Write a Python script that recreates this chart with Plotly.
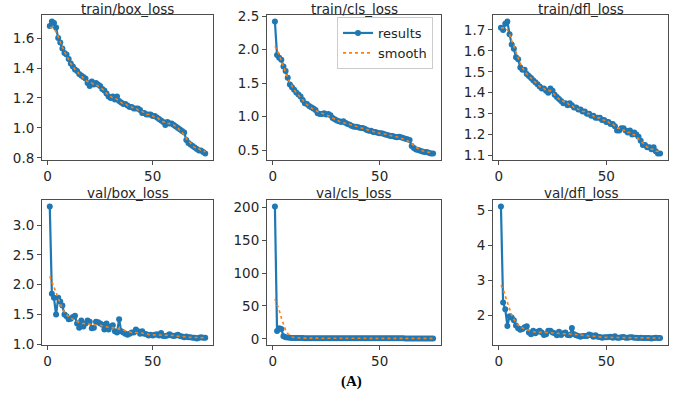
import plotly.graph_objects as go

epochs = list(range(1, 76))

train_box = [1.68,1.71,1.70,1.67,1.60, 1.57,1.53,1.50,1.49,1.46, 1.43,1.41,1.39,1.38,1.36,
             1.35,1.34,1.33,1.30,1.28, 1.31,1.29,1.30,1.29,1.28, 1.26,1.25,1.23,1.21,1.20,
             1.21,1.19,1.21,1.18,1.17, 1.16,1.16,1.15,1.14,1.14, 1.13,1.13,1.13,1.12,1.10,
             1.10,1.09,1.09,1.09,1.08, 1.08,1.07,1.06,1.05,1.04, 1.02,1.04,1.03,1.03,1.02,
             1.01,1.00,0.99,0.98,0.97, 0.92,0.90,0.89,0.88,0.87, 0.86,0.85,0.85,0.84,0.83]
train_box_s = [1.67,1.67,1.66,1.64,1.61, 1.57,1.54,1.51,1.48,1.46, 1.43,1.41,1.39,1.38,1.36,
               1.35,1.33,1.32,1.31,1.30, 1.30,1.29,1.29,1.28,1.27, 1.26,1.25,1.23,1.22,1.21,
               1.20,1.20,1.19,1.18,1.17, 1.16,1.16,1.15,1.14,1.14, 1.13,1.13,1.12,1.11,1.11,
               1.10,1.09,1.09,1.08,1.08, 1.07,1.07,1.06,1.05,1.04, 1.04,1.03,1.03,1.02,1.02,
               1.01,1.00,0.98,0.97,0.95, 0.93,0.91,0.90,0.88,0.87, 0.86,0.86,0.85,0.85,0.84]

train_cls = [2.42,1.92,1.88,1.85,1.75, 1.68,1.58,1.48,1.44,1.40, 1.36,1.33,1.30,1.25,1.20,
             1.19,1.16,1.14,1.12,1.10, 1.05,1.04,1.04,1.05,1.03, 1.04,1.02,0.98,0.96,0.94,
             0.93,0.92,0.93,0.91,0.89, 0.88,0.86,0.85,0.85,0.84, 0.83,0.83,0.82,0.80,0.79,
             0.79,0.77,0.77,0.76,0.75, 0.75,0.74,0.73,0.72,0.71, 0.71,0.70,0.69,0.70,0.69,
             0.68,0.67,0.66,0.65,0.56, 0.53,0.51,0.50,0.49,0.48, 0.47,0.47,0.46,0.45,0.45]
train_cls_s = [2.05,2.00,1.92,1.83,1.74, 1.66,1.58,1.51,1.45,1.40, 1.36,1.32,1.28,1.24,1.21,
               1.18,1.15,1.13,1.11,1.09, 1.07,1.06,1.05,1.04,1.03, 1.02,1.00,0.98,0.96,0.95,
               0.93,0.92,0.91,0.90,0.89, 0.88,0.87,0.86,0.85,0.84, 0.83,0.82,0.81,0.80,0.79,
               0.78,0.77,0.77,0.76,0.75, 0.75,0.74,0.73,0.72,0.72, 0.71,0.70,0.70,0.69,0.68,
               0.67,0.66,0.64,0.62,0.59, 0.56,0.54,0.52,0.50,0.49, 0.48,0.47,0.46,0.46,0.46]

train_dfl = [1.71,1.70,1.73,1.74,1.68, 1.63,1.61,1.57,1.56,1.52, 1.51,1.51,1.49,1.48,1.47,
             1.46,1.45,1.44,1.43,1.42, 1.42,1.41,1.40,1.42,1.41, 1.39,1.38,1.37,1.36,1.35,
             1.35,1.34,1.35,1.34,1.33, 1.33,1.32,1.32,1.31,1.31, 1.30,1.30,1.29,1.29,1.28,
             1.28,1.28,1.27,1.27,1.26, 1.26,1.25,1.25,1.24,1.22, 1.22,1.23,1.23,1.22,1.21,
             1.22,1.20,1.21,1.20,1.19, 1.17,1.15,1.15,1.14,1.14, 1.13,1.14,1.12,1.11,1.11]
train_dfl_s = [1.71,1.71,1.71,1.70,1.68, 1.65,1.62,1.59,1.56,1.54, 1.52,1.50,1.49,1.48,1.47,
               1.46,1.45,1.44,1.43,1.42, 1.42,1.41,1.41,1.41,1.40, 1.39,1.38,1.37,1.36,1.36,
               1.35,1.35,1.34,1.34,1.33, 1.33,1.32,1.32,1.31,1.31, 1.30,1.30,1.29,1.29,1.28,
               1.28,1.28,1.27,1.27,1.26, 1.26,1.25,1.25,1.24,1.23, 1.23,1.23,1.22,1.22,1.21,
               1.21,1.20,1.20,1.19,1.18, 1.17,1.16,1.15,1.14,1.14, 1.13,1.13,1.12,1.12,1.12]

val_box = [3.31,1.85,1.78,1.50,1.78, 1.72,1.65,1.50,1.47,1.42, 1.43,1.46,1.48,1.35,1.28,
           1.40,1.30,1.35,1.40,1.38, 1.27,1.28,1.38,1.37,1.35, 1.33,1.25,1.35,1.25,1.30,
           1.32,1.22,1.20,1.42,1.22, 1.20,1.18,1.16,1.18,1.20, 1.20,1.25,1.22,1.18,1.22,
           1.18,1.17,1.15,1.16,1.15, 1.16,1.17,1.15,1.19,1.14, 1.14,1.15,1.17,1.15,1.14,
           1.15,1.16,1.14,1.13,1.12, 1.13,1.12,1.12,1.11,1.11, 1.10,1.11,1.12,1.11,1.11]
val_box_s = [2.14,2.05,1.96,1.86,1.77, 1.68,1.60,1.54,1.49,1.46, 1.44,1.42,1.40,1.38,1.36,
             1.35,1.35,1.35,1.34,1.34, 1.33,1.33,1.33,1.33,1.32, 1.31,1.30,1.29,1.29,1.28,
             1.28,1.27,1.26,1.25,1.24, 1.23,1.22,1.21,1.20,1.20, 1.20,1.20,1.20,1.20,1.19,
             1.18,1.17,1.17,1.16,1.16, 1.16,1.16,1.16,1.16,1.15, 1.15,1.15,1.15,1.15,1.15,
             1.14,1.14,1.14,1.13,1.13, 1.12,1.12,1.12,1.11,1.11, 1.11,1.11,1.11,1.11,1.11]

val_cls = [201,12,16,15,4.0, 2.5,2.0,1.6,1.4,1.3, 1.2,1.2,1.1,1.1,1.0,
           1.0,1.0,0.95,0.95,0.9, 0.9,0.9,0.9,0.85,0.85, 0.85,0.85,0.8,0.8,0.8,
           0.8,0.8,0.78,0.8,0.78, 0.76,0.75,0.75,0.74,0.74, 0.73,0.74,0.73,0.72,0.72,
           0.71,0.71,0.70,0.70,0.70, 0.69,0.69,0.68,0.69,0.68, 0.67,0.67,0.67,0.66,0.66,
           0.66,0.65,0.65,0.65,0.64, 0.63,0.63,0.62,0.62,0.62, 0.61,0.61,0.61,0.60,0.60]
val_cls_s = [60.5,52.5,43.7,32.0,21.0, 13.0,8.0,4.6,2.7,1.8, 1.4,1.25,1.15,1.1,1.05,
             1.0,0.98,0.96,0.94,0.92, 0.90,0.89,0.88,0.87,0.86, 0.85,0.84,0.83,0.82,0.81,
             0.80,0.80,0.79,0.79,0.78, 0.77,0.76,0.75,0.75,0.74, 0.74,0.73,0.73,0.72,0.72,
             0.71,0.71,0.70,0.70,0.70, 0.69,0.69,0.68,0.68,0.68, 0.67,0.67,0.67,0.66,0.66,
             0.66,0.65,0.65,0.65,0.64, 0.64,0.63,0.63,0.62,0.62, 0.61,0.61,0.61,0.61,0.61]

val_dfl = [5.12,2.36,2.17,1.69,1.97, 1.93,1.85,1.70,1.62,1.58, 1.60,1.65,1.68,1.50,1.45,
           1.55,1.48,1.52,1.55,1.50, 1.43,1.45,1.55,1.55,1.50, 1.48,1.42,1.52,1.43,1.48,
           1.50,1.43,1.42,1.63,1.45, 1.42,1.40,1.38,1.40,1.40, 1.40,1.44,1.42,1.38,1.42,
           1.38,1.37,1.35,1.36,1.36, 1.37,1.38,1.35,1.39,1.35, 1.35,1.36,1.37,1.35,1.35,
           1.36,1.36,1.35,1.35,1.34, 1.35,1.34,1.34,1.34,1.34, 1.33,1.34,1.35,1.34,1.34]
val_dfl_s = [2.86,2.75,2.55,2.35,2.15, 2.00,1.88,1.78,1.71,1.66, 1.62,1.60,1.58,1.56,1.54,
             1.52,1.51,1.51,1.50,1.50, 1.50,1.50,1.50,1.50,1.49, 1.48,1.48,1.47,1.47,1.47,
             1.47,1.46,1.46,1.46,1.45, 1.44,1.43,1.42,1.41,1.40, 1.40,1.40,1.40,1.39,1.39,
             1.38,1.37,1.37,1.36,1.36, 1.36,1.36,1.36,1.36,1.36, 1.36,1.36,1.36,1.35,1.35,
             1.35,1.35,1.35,1.35,1.34, 1.34,1.34,1.34,1.34,1.34, 1.34,1.34,1.34,1.34,1.34]

titles = ["train/box_loss", "train/cls_loss", "train/dfl_loss",
          "val/box_loss", "val/cls_loss", "val/dfl_loss"]
x_ticks = [0, 50]
y_ticks = [[0.8, 1.0, 1.2, 1.4, 1.6],
           [0.5, 1.0, 1.5, 2.0, 2.5],
           [1.1, 1.2, 1.3, 1.4, 1.5, 1.6, 1.7],
           [1.0, 1.5, 2.0, 2.5, 3.0],
           [0, 50, 100, 150, 200],
           [2, 3, 4, 5]]
y_fmt = [".1f", ".1f", ".1f", ".1f", "d", "d"]
caption = "(A)"

results = [train_box, train_cls, train_dfl, val_box, val_cls, val_dfl]
smooths = [train_box_s, train_cls_s, train_dfl_s, val_box_s, val_cls_s, val_dfl_s]

W, H = 675, 396
x_px = [(42, 213), (267, 441), (493, 668)]
y_px = [(15, 160), (200, 345)]
title_top_px = [0, 184]

BLUE = "#1f77b4"
ORANGE = "#ff7f0e"
FONT = "DejaVu Sans"
TXT = "#262626"

fig = go.Figure()
layout = dict(template="none", width=W, height=H,
              margin=dict(l=0, r=0, t=0, b=0, autoexpand=False),
              paper_bgcolor="white", plot_bgcolor="white",
              font=dict(family=FONT, size=13, color=TXT))
annotations = []

xr = [epochs[0] - 0.05 * (epochs[-1] - epochs[0]), epochs[-1] + 0.05 * (epochs[-1] - epochs[0])]

for i in range(6):
    r, c = divmod(i, 3)
    ax = "" if i == 0 else str(i + 1)
    ys = results[i] + smooths[i]
    lo, hi = min(ys), max(ys)
    pad = 0.05 * (hi - lo)
    fig.add_trace(go.Scatter(x=epochs, y=results[i], mode="lines+markers",
                             name="results", showlegend=(i == 1),
                             line=dict(color=BLUE, width=2.2),
                             marker=dict(color=BLUE, size=6),
                             xaxis="x" + ax, yaxis="y" + ax))
    fig.add_trace(go.Scatter(x=epochs, y=smooths[i], mode="lines",
                             name="smooth", showlegend=(i == 1),
                             line=dict(color=ORANGE, width=1.6, dash="dot"),
                             xaxis="x" + ax, yaxis="y" + ax))
    x0, x1 = x_px[c]
    yt, yb = y_px[r]
    common = dict(showline=True, linecolor="#4d4d4d", linewidth=1, mirror=True,
                  ticks="outside", ticklen=4, tickcolor="#4d4d4d", showgrid=False,
                  zeroline=False, automargin=False,
                  tickfont=dict(family=FONT, size=13.5, color=TXT))
    layout["xaxis" + ax] = dict(domain=[x0 / W, x1 / W], range=xr, tickvals=x_ticks,
                                anchor="y" + ax, **common)
    layout["yaxis" + ax] = dict(domain=[1 - yb / H, 1 - yt / H], range=[lo - pad, hi + pad],
                                tickvals=y_ticks[i], tickformat=y_fmt[i],
                                anchor="x" + ax, **common)
    annotations.append(dict(text=titles[i], x=(x0 + x1) / 2 / W, y=1 - title_top_px[r] / H,
                            xref="paper", yref="paper", xanchor="center", yanchor="top",
                            borderpad=0, showarrow=False,
                            font=dict(family=FONT, size=13.5, color=TXT)))

annotations.append(dict(text="<b>" + caption + "</b>", x=351 / W, y=1 - 381 / H,
                        xref="paper", yref="paper", xanchor="center", yanchor="middle",
                        showarrow=False,
                        font=dict(family="Liberation Serif", size=15, color="black")))

layout["annotations"] = annotations
layout["legend"] = dict(x=433 / W, y=1 - 17 / H, xanchor="right", yanchor="top",
                        bgcolor="rgba(255,255,255,0.8)", bordercolor="#cccccc", borderwidth=1,
                        font=dict(family=FONT, size=13, color=TXT),
                        tracegroupgap=0, itemwidth=30)
fig.update_layout(**layout)
fig.write_html("out.html", config={"displayModeBar": False},
               post_script="document.body.style.margin='0';document.body.style.padding='0';")
